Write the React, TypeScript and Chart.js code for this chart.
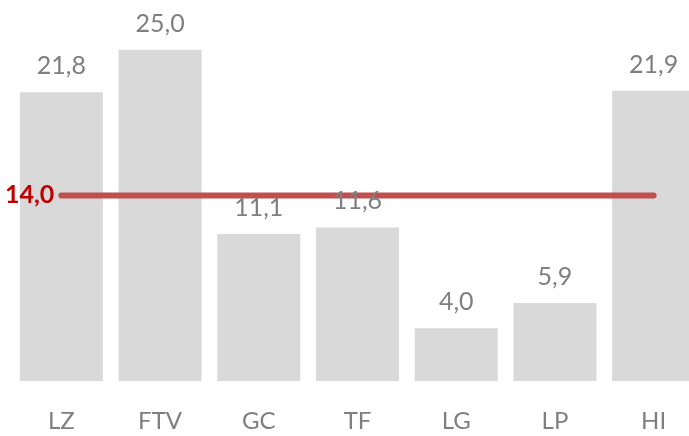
import React, { useEffect, useRef } from "react";
import { Chart, registerables } from "chart.js";

Chart.register(...registerables);

const categories = ["LZ", "FTV", "GC", "TF", "LG", "LP", "HI"];
const values = [21.8, 25.0, 11.1, 11.6, 4.0, 5.9, 21.9];
const averageValue = 14.0;
const averageSeries = categories.map(() => averageValue);

const FONT = "Lato, 'Open Sans', sans-serif";

const fmt = (v: number) => v.toFixed(1).replace(".", ",");

const labelPlugin = {
  id: "valueLabels",
  afterDatasetsDraw(chart: any) {
    const ctx = chart.ctx;
    const barMeta = chart.getDatasetMeta(1);
    ctx.save();
    ctx.font = `25px ${FONT}`;
    ctx.fillStyle = "#7F7F7F";
    ctx.textAlign = "center";
    ctx.textBaseline = "alphabetic";
    barMeta.data.forEach((el: any, i: number) => {
      ctx.fillText(fmt(values[i]), el.x, el.y - 18);
    });
    const lineMeta = chart.getDatasetMeta(0);
    const p0 = lineMeta.data[0];
    ctx.font = `bold 25px ${FONT}`;
    ctx.fillStyle = "#C00000";
    ctx.textAlign = "right";
    ctx.textBaseline = "middle";
    ctx.fillText(fmt(averageValue), p0.x - 7, p0.y - 1);
    ctx.restore();
  },
};

export default function App() {
  const ref = useRef<HTMLCanvasElement>(null);
  useEffect(() => {
    if (!ref.current) return;
    const chart = new Chart(ref.current, {
      type: "bar",
      data: {
        labels: categories,
        datasets: [
          {
            type: "line",
            data: averageSeries,
            borderColor: "#C0504D",
            borderWidth: 6,
            borderCapStyle: "round",
            pointRadius: 0,
            order: 0,
          } as any,
          {
            type: "bar",
            data: values,
            backgroundColor: "#D9D9D9",
            categoryPercentage: 1,
            barPercentage: 0.841,
            order: 1,
          },
        ],
      },
      options: {
        animation: false,
        responsive: false,
        devicePixelRatio: 1,
        layout: { padding: { left: 12, right: 13, top: 0, bottom: 0 } },
        plugins: { legend: { display: false }, tooltip: { enabled: false } },
        scales: {
          x: {
            grid: { display: false, drawTicks: false },
            border: { display: false },
            ticks: { font: { family: FONT, size: 24 }, color: "#7F7F7F", padding: 26 },
          },
          y: { display: false, min: 0, max: 28.75 },
        },
      },
      plugins: [labelPlugin],
    });
    return () => chart.destroy();
  }, []);
  return (
    <div
      style={{
        position: "fixed",
        left: 0,
        top: 0,
        width: 689,
        height: 436,
        overflow: "hidden",
        background: "#fff",
      }}
    >
      <canvas ref={ref} width={716} height={462} style={{ display: "block" }} />
    </div>
  );
}
